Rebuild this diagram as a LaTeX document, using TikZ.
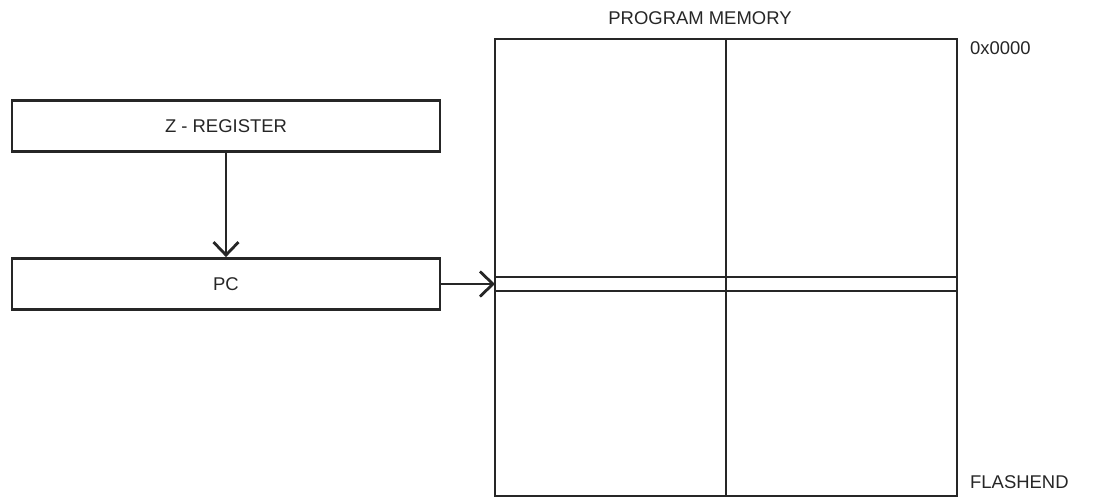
\documentclass[tikz,border=0pt]{standalone}
\usepackage{fontspec}
\setmainfont{Liberation Sans}
\usetikzlibrary{arrows.meta}
\tikzset{
  regbox/.style={draw, line width=1.6pt, minimum width=8.56cm, minimum height=1.02cm, inner sep=0pt},
  flow/.style={line width=1.6pt, -{Straight Barb[length=2.6mm, width=5mm, line width=1.6pt]}}
}
\begin{document}
\begin{tikzpicture}[x=0.02cm, y=-0.02cm, font=\fontsize{10.5}{12}\selectfont, color=black!85]
\useasboundingbox (0,0) rectangle (1109,501);
\node[regbox] (zreg) at (226,126) {Z - REGISTER};
\node[regbox] (pc) at (226,284) {PC};
% program memory
\draw[line width=1.6pt] (495,39) rectangle (957,496);
\coordinate (memin) at (495,284);
\draw[line width=1.6pt] (726,39) -- (726,496);
\draw[line width=0.7pt] (495,277) -- (957,277);
\draw[line width=1.2pt] (495,291) -- (957,291);
\node at (700,18) {PROGRAM MEMORY};
\node[anchor=west] at (964,48) {0x0000};
\node[anchor=west] at (964,482) {FLASHEND};
\draw[flow] (zreg) -- (pc);
\draw[flow] (pc) -- (memin);
\end{tikzpicture}
\end{document}
